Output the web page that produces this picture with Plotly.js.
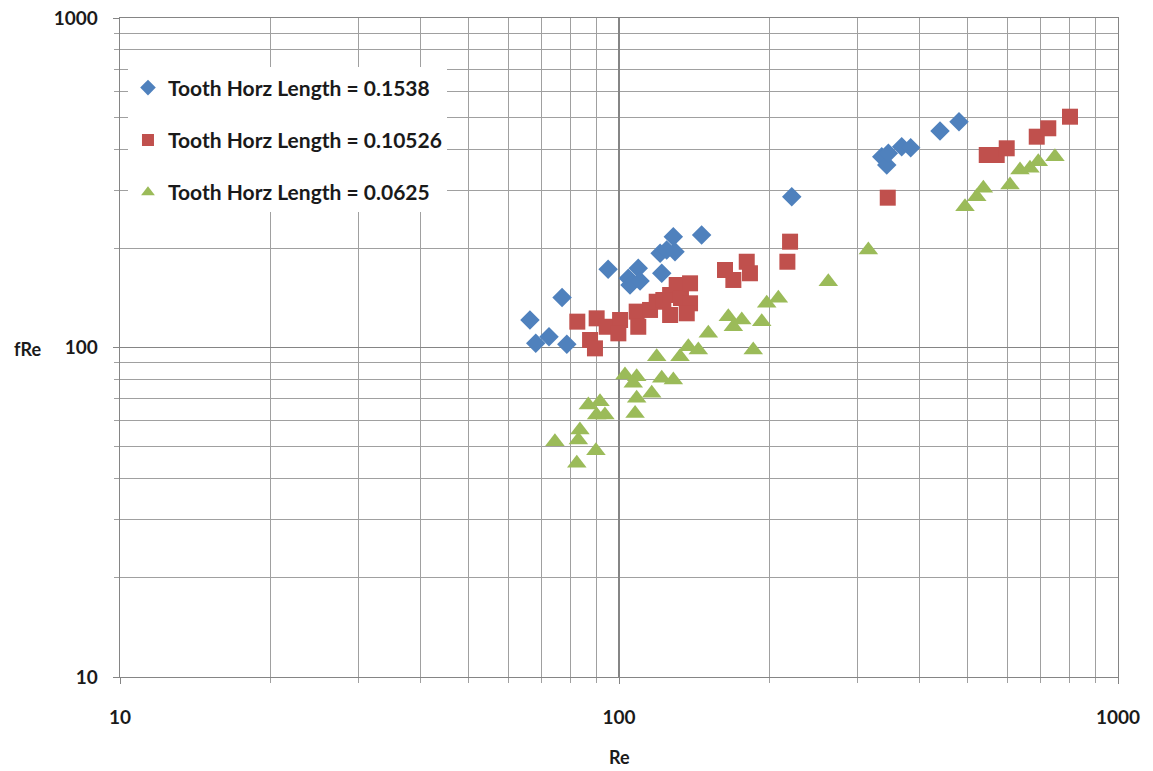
<!DOCTYPE html>
<html>
<head>
<meta charset="utf-8">
<script src="https://cdn.plot.ly/plotly-3.0.1.min.js"></script>
<style>html,body{margin:0;padding:0;background:#fff;}#chart{width:1153px;height:771px;}</style>
</head>
<body>
<div id="chart"></div>
<script>
// Series 1: Tooth Horz Length = 0.1538
const blueRe  = [66.3, 68.1, 72.4, 76.9, 78.6, 95.1, 104.4, 105.2, 109.3, 110.2, 120.9, 121.8, 124.6, 128.5, 129.5, 146.4, 221.9, 336.2, 344.0, 346.6, 368.6, 384.2, 439.8, 480.1];
const blueFRe = [121.2, 103.0, 107.8, 141.8, 102.3, 172.7, 162.2, 154.8, 173.9, 159.2, 193.1, 168.0, 197.6, 216.9, 195.3, 219.5, 286.9, 379.4, 357.9, 388.5, 406.8, 404.0, 454.0, 484.5];
// Series 2: Tooth Horz Length = 0.10526
const redRe  = [82.5, 87.5, 89.5, 90.2, 94.5, 100.5, 99.7, 108.5, 109.3, 115.4, 119.0, 122.7, 126.6, 130.5, 133.1, 138.8, 138.8, 126.6, 136.7, 163.1, 169.5, 180.3, 183.0, 220.2, 217.5, 345.6, 545.7, 571.4, 598.4, 687.3, 724.9, 801.4];
const redFRe = [119.8, 105.4, 99.4, 122.6, 115.6, 121.2, 110.4, 128.5, 115.6, 130.0, 137.7, 139.4, 144.3, 154.8, 141.3, 156.6, 136.2, 125.5, 127.0, 171.9, 160.3, 182.1, 168.0, 209.5, 182.1, 284.9, 383.9, 383.9, 402.3, 436.3, 462.7, 501.7];
// Series 3: Tooth Horz Length = 0.0625
const greenRe  = [74.4, 82.3, 82.9, 83.5, 89.9, 86.8, 91.6, 90.2, 93.7, 102.8, 108.5, 106.8, 108.5, 107.7, 116.3, 119.0, 121.8, 128.5, 132.5, 137.7, 144.2, 151.0, 165.6, 169.5, 176.2, 193.2, 185.8, 197.7, 208.6, 262.7, 316.0, 493.6, 521.1, 537.2, 607.5, 636.2, 666.2, 692.2, 747.5];
const greenFRe = [51.8, 44.5, 52.4, 56.2, 48.6, 66.9, 68.5, 62.4, 62.4, 82.5, 81.5, 77.9, 70.1, 63.1, 72.6, 93.8, 80.6, 79.7, 93.8, 100.6, 98.3, 110.4, 124.0, 115.6, 121.2, 119.8, 98.3, 136.2, 141.1, 158.4, 197.6, 267.5, 286.9, 304.2, 311.3, 345.6, 349.8, 366.3, 379.4];

const seriesNames = ["Tooth Horz Length = 0.1538", "Tooth Horz Length = 0.10526", "Tooth Horz Length = 0.0625"];
const majorTicks = [10, 100, 1000];
const majorLabels = ["10", "100", "1000"];
const minorTicks = [20,30,40,50,60,70,80,90,200,300,400,500,600,700,800,900];

const FONT = "Lato, 'Open Sans', 'DejaVu Sans', sans-serif";

const traces = [
  {x: blueRe, y: blueFRe, name: seriesNames[0], type: "scatter", mode: "markers", legendgroup: "a",
   marker: {symbol: "diamond", size: 15, color: "#4F81BD"}},
  {x: redRe, y: redFRe, name: seriesNames[1], type: "scatter", mode: "markers", legendgroup: "b",
   marker: {symbol: "square", size: 16, color: "#C0504D"}},
  {x: greenRe, y: greenFRe, name: seriesNames[2], type: "scatter", mode: "markers", legendgroup: "c",
   marker: {symbol: "triangle-up", size: 17, color: "#9BBB59"}}
];

const axisCommon = {
  type: "log",
  showgrid: true, gridcolor: "#858585", gridwidth: 1.3,
  zeroline: false,
  showline: true, linecolor: "#858585", linewidth: 1.3, mirror: true,
  ticks: "outside", ticklen: 6, tickcolor: "#858585",
  tickmode: "array",
  tickfont: {family: FONT, size: 19, color: "#1a1a1a", weight: "bold"},
  minor: {tickmode: "array", tickvals: minorTicks, showgrid: true, gridcolor: "#a0a0a0", gridwidth: 1, ticks: "outside", ticklen: 5, tickcolor: "#a0a0a0"}
};

const layout = {
  width: 1153, height: 771,
  paper_bgcolor: "#ffffff", plot_bgcolor: "#ffffff",
  margin: {l: 120, r: 35, t: 18, b: 94},
  showlegend: true,
  legend: {
    x: 0.008, y: 0.925, xanchor: "left", yanchor: "top",
    bgcolor: "#ffffff", borderwidth: 0,
    font: {family: FONT, size: 21, color: "#1a1a1a", weight: "bold"},
    traceorder: "grouped", tracegroupgap: 22,
    itemsizing: "constant", itemwidth: 30
  },
  xaxis: Object.assign({}, axisCommon, {range: [1, 3], tickvals: majorTicks, ticktext: majorLabels, ticklabelstandoff: 17}),
  yaxis: Object.assign({}, axisCommon, {range: [1, 3], tickvals: majorTicks, ticktext: majorLabels, ticklabelstandoff: 11}),
  annotations: [
    {text: "Re", xref: "paper", yref: "paper", x: 0.5, y: 0, yshift: -80, xanchor: "center", yanchor: "middle", showarrow: false,
     font: {family: FONT, size: 18, color: "#1a1a1a", weight: "bold"}},
    {text: "fRe", xref: "paper", yref: "paper", x: 0, xshift: -93, y: 0.5, yshift: -1, xanchor: "center", yanchor: "middle", showarrow: false,
     font: {family: FONT, size: 18, color: "#1a1a1a", weight: "bold"}}
  ]
};

Plotly.newPlot("chart", traces, layout, {displayModeBar: false, staticPlot: true});
</script>
</body>
</html>
